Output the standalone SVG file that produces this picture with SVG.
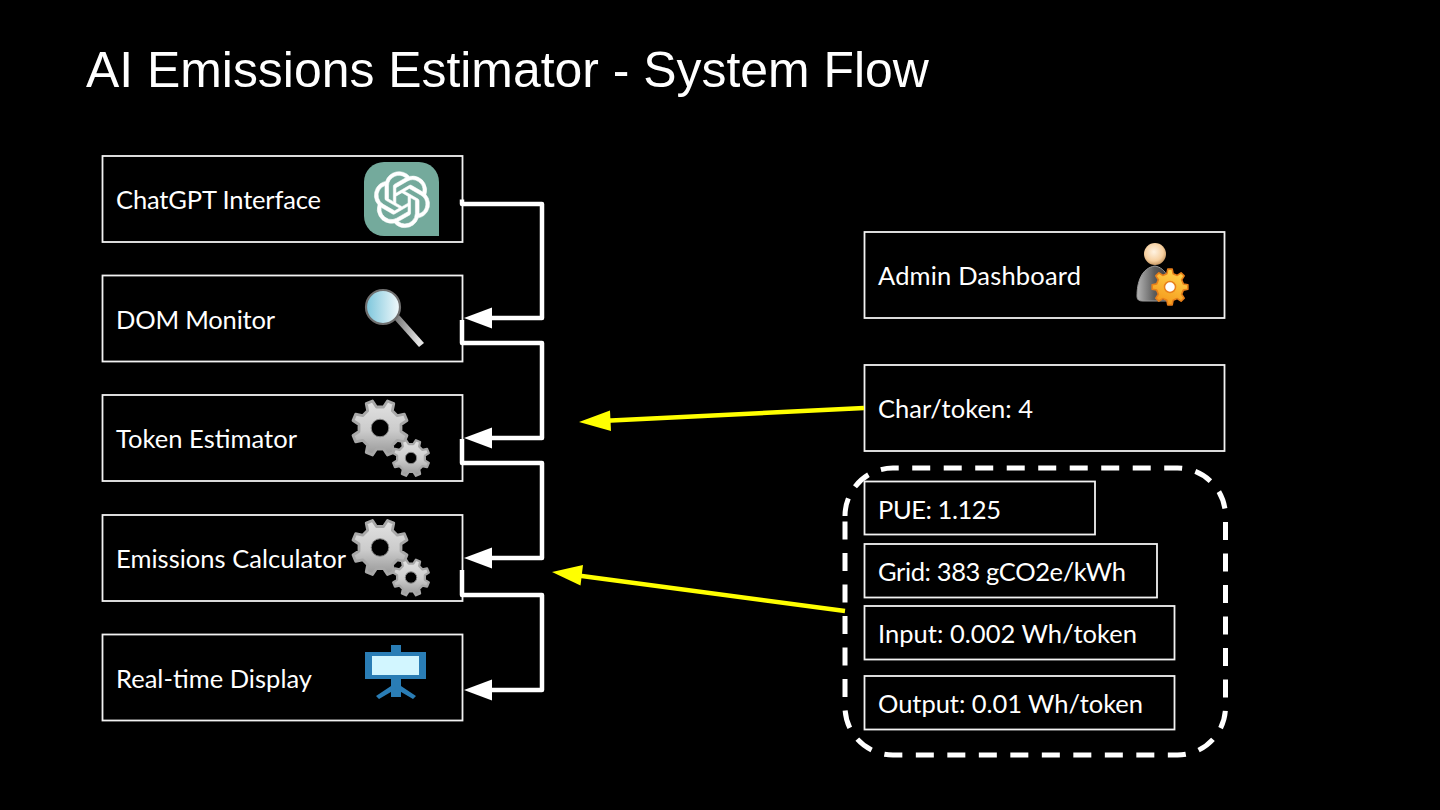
<svg xmlns="http://www.w3.org/2000/svg" xmlns:xlink="http://www.w3.org/1999/xlink" width="1440" height="810" viewBox="0 0 1440 810">
<style>
.box{fill:#000;stroke:#f2f2f2;stroke-width:1.8}
.lbl{font-family:"Lato","Noto Sans",sans-serif;font-size:25.5px;fill:#fff}
.title{font-family:"Liberation Sans",Arial,sans-serif;font-size:49.9px;fill:#fff}
.wire{fill:none;stroke:#fff;stroke-width:4.5;stroke-linejoin:round}
.ywire{fill:none;stroke:#ff0;stroke-width:4.5}
</style>
<defs>
<linearGradient id="gearFill" x1="0" y1="0" x2="0" y2="1"><stop offset="0" stop-color="#e2e2e2"/><stop offset=".55" stop-color="#cbcbcb"/><stop offset="1" stop-color="#989898"/></linearGradient>
<linearGradient id="orangeFill" x1="0" y1="0" x2="0" y2="1"><stop offset="0" stop-color="#ffd24a"/><stop offset="1" stop-color="#f59a1c"/></linearGradient>
<linearGradient id="lens" x1="0" y1="0" x2="1" y2="0"><stop offset="0" stop-color="#7cc6dc"/><stop offset="1" stop-color="#f2f9fb"/></linearGradient>
<linearGradient id="handle" gradientUnits="userSpaceOnUse" x1="392" y1="330" x2="420" y2="338"><stop offset="0" stop-color="#777"/><stop offset="1" stop-color="#e4e4e4"/></linearGradient>
<linearGradient id="body" x1="0" y1="0" x2="1" y2="0"><stop offset="0" stop-color="#b5b5b5"/><stop offset=".5" stop-color="#5c5c5c"/><stop offset="1" stop-color="#333"/></linearGradient>
<radialGradient id="head" cx=".45" cy=".4" r=".6"><stop offset="0" stop-color="#fff3e2"/><stop offset=".7" stop-color="#f6cf9f"/><stop offset="1" stop-color="#c99a66"/></radialGradient>
<polygon id="gear" points="75,12.5 96.4,26.7 87,49.2 61.9,44.1 44.1,61.9 49.2,87 26.7,96.4 12.5,75 -12.5,75 -26.7,96.4 -49.2,87 -44.1,61.9 -61.9,44.1 -87,49.2 -96.4,26.7 -75,12.5 -75,-12.5 -96.4,-26.7 -87,-49.2 -61.9,-44.1 -44.1,-61.9 -49.2,-87 -26.7,-96.4 -12.5,-75 12.5,-75 26.7,-96.4 49.2,-87 44.1,-61.9 61.9,-44.1 87,-49.2 96.4,-26.7 75,-12.5" stroke-linejoin="round"/>
<g id="gears">
<use xlink:href="#gear" href="#gear" transform="translate(380,428) scale(.28)" fill="url(#gearFill)" stroke="#a8a8a8" stroke-width="10"/>
<circle cx="380" cy="428" r="8.800" fill="#000" stroke="#888" stroke-width="1"/>
<use xlink:href="#gear" href="#gear" transform="translate(411,458) scale(.185)" fill="url(#gearFill)" stroke="#a8a8a8" stroke-width="12"/>
<circle cx="411" cy="458" r="5.700" fill="#000" stroke="#888" stroke-width="1"/>
</g>
</defs>
<rect width="1440" height="810" fill="#000"/>
<text class="title" x="86" y="86.500">AI Emissions Estimator - System Flow</text>

<g id="node-chatgpt">
<rect class="box" x="102.500" y="156" width="360" height="86"/>
<text class="lbl" x="116" y="209" textLength="205">ChatGPT Interface</text>
<path d="M384,162H419A20,20 0 0 1 439,182V236H384A20,20 0 0 1 364,216V182A20,20 0 0 1 384,162Z" fill="#74aa9c"/>
<path transform="translate(374,171.700) scale(2.33)" fill="#fff" stroke="#fff" stroke-width=".25" d="M22.2819 9.8211a5.9847 5.9847 0 0 0-.5157-4.9108 6.0462 6.0462 0 0 0-6.5098-2.9A6.0651 6.0651 0 0 0 4.9807 4.1818a5.9847 5.9847 0 0 0-3.9977 2.9 6.0462 6.0462 0 0 0 .7427 7.0966 5.98 5.98 0 0 0 .511 4.9107 6.051 6.051 0 0 0 6.5146 2.9001A5.9847 5.9847 0 0 0 13.2599 24a6.0557 6.0557 0 0 0 5.7718-4.2058 5.9894 5.9894 0 0 0 3.9977-2.9001 6.0557 6.0557 0 0 0-.7475-7.0729zm-9.022 12.6081a4.4755 4.4755 0 0 1-2.8764-1.0408l.1419-.0804 4.7783-2.7582a.7948.7948 0 0 0 .3927-.6813v-6.7369l2.02 1.1686a.071.071 0 0 1 .038.052v5.5826a4.504 4.504 0 0 1-4.4945 4.4944zm-9.6607-4.1254a4.4708 4.4708 0 0 1-.5346-3.0137l.142.0852 4.783 2.7582a.7712.7712 0 0 0 .7806 0l5.8428-3.3685v2.3324a.0804.0804 0 0 1-.0332.0615L9.74 19.9502a4.4992 4.4992 0 0 1-6.1408-1.6464zM2.3408 7.8956a4.485 4.485 0 0 1 2.3655-1.9728V11.6a.7664.7664 0 0 0 .3879.6765l5.8144 3.3543-2.0201 1.1685a.0757.0757 0 0 1-.071 0l-4.8303-2.7865A4.504 4.504 0 0 1 2.3408 7.872zm16.5963 3.8558L13.1038 8.364 15.1192 7.2a.0757.0757 0 0 1 .071 0l4.8303 2.7913a4.4944 4.4944 0 0 1-.6765 8.1042v-5.6772a.79.79 0 0 0-.407-.667zm2.0107-3.0231l-.142-.0852-4.7735-2.7818a.7759.7759 0 0 0-.7854 0L9.409 9.2297V6.8974a.0662.0662 0 0 1 .0284-.0615l4.8303-2.7866a4.4992 4.4992 0 0 1 6.6802 4.66zM8.3065 12.863l-2.02-1.1638a.0804.0804 0 0 1-.038-.0567V6.0742a4.4992 4.4992 0 0 1 7.3757-3.4537l-.142.0805L8.704 5.459a.7948.7948 0 0 0-.3927.6813zm1.0976-2.3654l2.602-1.4998 2.6069 1.4998v2.9994l-2.5974 1.4997-2.6067-1.4997Z"/>
</g>

<g id="node-dom">
<rect class="box" x="102.500" y="275.500" width="360" height="86"/>
<text class="lbl" x="116" y="329" textLength="159">DOM Monitor</text>
<polygon points="394,319 399,315 424,343 419,347" fill="url(#handle)"/>
<circle cx="383" cy="307" r="17" fill="url(#lens)" stroke="#6f6f6f" stroke-width="2.200"/>
</g>

<g id="node-token">
<rect class="box" x="102.500" y="395" width="360" height="86"/>
<text class="lbl" x="116" y="448" textLength="181">Token Estimator</text>
<use xlink:href="#gears" href="#gears"/>
</g>

<g id="node-emissions">
<rect class="box" x="102.500" y="515" width="360" height="86"/>
<text class="lbl" x="116" y="568" textLength="230">Emissions Calculator</text>
<use xlink:href="#gears" href="#gears" transform="translate(0,119.500)"/>
</g>

<g id="node-display">
<rect class="box" x="102.500" y="634.500" width="360" height="86"/>
<text class="lbl" x="116" y="688" textLength="196">Real-time Display</text>
<g fill="#2a7db5">
<rect x="391" y="645" width="10" height="8"/>
<rect x="365" y="652" width="61" height="27"/>
<rect x="391" y="679" width="10" height="18"/>
<path d="M394,684L376,696L379,699L396,689ZM398,684L416,696L413,699L396,689Z"/>
</g>
<rect x="372" y="656" width="47" height="19" fill="#d2f6ff"/>
</g>

<g id="node-admin">
<rect class="box" x="864.500" y="232" width="360" height="86"/>
<text class="lbl" x="878" y="285" textLength="203">Admin Dashboard</text>
<path d="M1137,296C1137,283 1141,268 1155,266C1166,268 1172,280 1172,301H1143C1139,301 1137,300 1137,296Z" fill="url(#body)" stroke="#999" stroke-width="1"/>
<circle cx="1155" cy="254" r="11" fill="url(#head)"/>
<use xlink:href="#gear" href="#gear" transform="translate(1170,287) rotate(22.500) scale(.18)" fill="url(#orangeFill)" stroke="#e8801a" stroke-width="9"/>
<circle cx="1170" cy="287" r="5.500" fill="#fff" stroke="#e8801a" stroke-width="1.500"/>
</g>

<g id="node-char">
<rect class="box" x="864.500" y="365" width="360" height="86"/>
<text class="lbl" x="878" y="418" textLength="155">Char/token: 4</text>
</g>

<g id="group-params">
<path d="M845,516A48,48 0 0 1 893,468H1177.500A48,48 0 0 1 1225.500,516V707A48,48 0 0 1 1177.500,755H893A48,48 0 0 1 845,707Z" fill="none" stroke="#fff" stroke-width="5" stroke-dasharray="18 13.500"/>
</g>
<g id="node-pue">
<rect class="box" x="864.500" y="481.500" width="230.500" height="53"/>
<text class="lbl" x="878" y="519" textLength="123">PUE: 1.125</text>
</g>
<g id="node-grid">
<rect class="box" x="864.500" y="544" width="292.500" height="53.500"/>
<text class="lbl" x="878" y="581" textLength="248">Grid: 383 gCO2e/kWh</text>
</g>
<g id="node-input">
<rect class="box" x="864.500" y="606" width="310" height="53.500"/>
<text class="lbl" x="878" y="643" textLength="259">Input: 0.002 Wh/token</text>
</g>
<g id="node-output">
<rect class="box" x="864.500" y="676" width="310" height="53.500"/>
<text class="lbl" x="878" y="713" textLength="265">Output: 0.01 Wh/token</text>
</g>

<g id="connectors">
<path class="wire" d="M462,199.500V204H542V318H488"/>
<polygon fill="#fff" points="464,318 492,307.500 492,328.500"/>
<path class="wire" d="M462,320V343H542V438H488"/>
<polygon fill="#fff" points="464,438 492,427.500 492,448.500"/>
<path class="wire" d="M462,439V463H542V558H488"/>
<polygon fill="#fff" points="464,558 492,547.500 492,568.500"/>
<path class="wire" d="M462,570V595H542V690H488"/>
<polygon fill="#fff" points="464,690 492,679.500 492,700.500"/>
<path class="ywire" d="M864,408L606,420.700"/>
<polygon fill="#ff0" points="579,422 610,410.500 611,431"/>
<path class="ywire" d="M845,611L578,575.500"/>
<polygon fill="#ff0" points="552,572 583,565 580.500,585.500"/>
</g>
</svg>
